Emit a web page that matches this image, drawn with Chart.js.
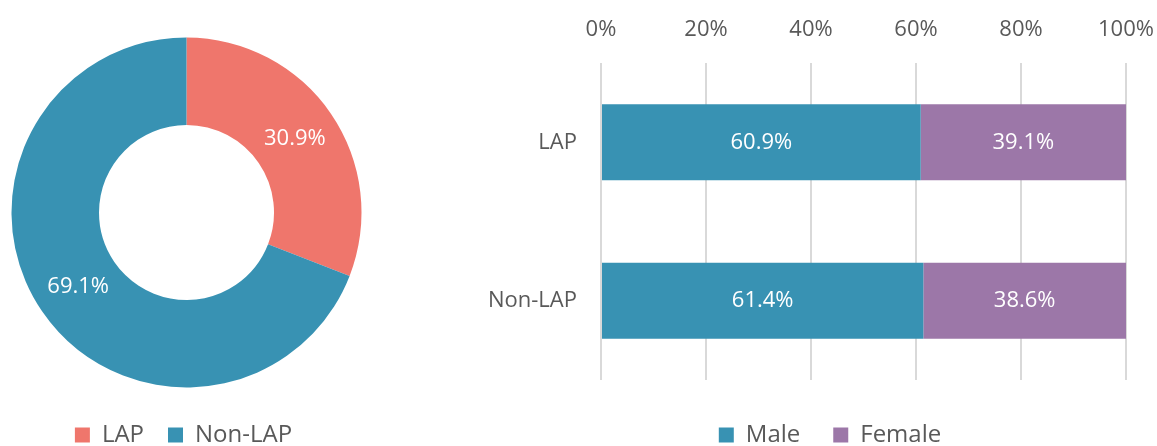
<!DOCTYPE html>
<html>
<head>
<meta charset="utf-8">
<script src="https://cdn.jsdelivr.net/npm/chart.js@4"></script>
<style>
  html, body { margin: 0; padding: 0; background: #ffffff; overflow: hidden; width: 1157px; height: 446px; position: relative; }
  #pie { position: absolute; left: 0; top: 0; }
  #bar { position: absolute; left: 440px; top: 0; }
</style>
</head>
<body>
<canvas id="pie" width="373" height="457"></canvas>
<canvas id="bar" width="780" height="457"></canvas>
<script>
// ---- data ----
const pieCategories = ['LAP', 'Non-LAP'];
const pieValues = [30.9, 69.1];
const barCategories = ['LAP', 'Non-LAP'];
const maleValues = [60.9, 61.4];
const femaleValues = [39.1, 38.6];
const seriesNames = ['Male', 'Female'];
const tickValues = [0, 20, 40, 60, 80, 100];

// ---- style ----
const FONT = '"Open Sans", "Liberation Sans", sans-serif';
const TEXT = '#595959';
const CORAL = '#EF766C';
const TEAL = '#3892B3';
const PURPLE = '#9C77A8';

const valueLabels = {
  id: 'valueLabels',
  afterDatasetsDraw(chart) {
    const ctx = chart.ctx;
    ctx.save();
    ctx.fillStyle = '#ffffff';
    ctx.font = '22px ' + FONT;
    ctx.textAlign = 'center';
    ctx.textBaseline = 'middle';
    chart.data.datasets.forEach((ds, di) => {
      const meta = chart.getDatasetMeta(di);
      meta.data.forEach((el, i) => {
        const p = chart.config.type === 'doughnut' ? el.tooltipPosition(true) : el.getCenterPoint(true);
        ctx.fillText(ds.data[i].toFixed(1) + '%', p.x, p.y);
      });
    });
    ctx.restore();
  }
};

// shifts the legend box sideways so it sits where the reference puts it
const legendShift = {
  id: 'legendShift',
  afterLayout(chart, args, opts) {
    const lg = chart.legend;
    if (lg && opts.dx) { lg.left += opts.dx; lg.right += opts.dx; }
  }
};

Chart.defaults.font.family = FONT;
Chart.defaults.color = TEXT;

new Chart(document.getElementById('pie'), {
  type: 'doughnut',
  data: {
    labels: pieCategories,
    datasets: [{
      data: pieValues,
      backgroundColor: [CORAL, TEAL],
      borderWidth: 0,
      radius: 175,
      cutout: '50%'
    }]
  },
  options: {
    responsive: false,
    animation: false,
    layout: { padding: { top: 26 } },
    plugins: {
      tooltip: { enabled: false },
      legend: {
        position: 'bottom',
        labels: { boxWidth: 15, boxHeight: 15, padding: 24, color: TEXT, font: { size: 24, family: FONT } }
      },
      legendShift: { dx: -3 }
    }
  },
  plugins: [valueLabels, legendShift]
});

new Chart(document.getElementById('bar'), {
  type: 'bar',
  data: {
    labels: barCategories,
    datasets: [
      { label: seriesNames[0], data: maleValues, backgroundColor: TEAL, borderWidth: 0, barPercentage: 0.48, categoryPercentage: 1 },
      { label: seriesNames[1], data: femaleValues, backgroundColor: PURPLE, borderWidth: 0, barPercentage: 0.48, categoryPercentage: 1 }
    ]
  },
  options: {
    indexAxis: 'y',
    responsive: false,
    animation: false,
    layout: { padding: { right: 94 } },
    scales: {
      x: {
        position: 'top',
        stacked: true,
        min: 0,
        max: 100,
        afterBuildTicks(s) { s.ticks = tickValues.map(v => ({ value: v })); },
        afterFit(s) { s.height = 63; s.paddingLeft = 0; s.paddingRight = 0; },
        ticks: { padding: 20, color: TEXT, font: { size: 22, family: FONT }, callback: v => v + '%' },
        grid: { color: '#d9d9d9', lineWidth: 2, drawTicks: false },
        border: { display: false }
      },
      y: {
        stacked: true,
        afterFit(s) { s.width = 161; },
        ticks: { padding: 24, color: TEXT, font: { size: 22, family: FONT } },
        grid: { display: false, drawTicks: false },
        border: { display: false }
      }
    },
    plugins: {
      tooltip: { enabled: false },
      legend: {
        position: 'bottom',
        title: { display: true, text: '', font: { size: 1 }, padding: { top: 8.8, bottom: 0 } },
        labels: { boxWidth: 15, boxHeight: 15, padding: 33, color: TEXT, font: { size: 24, family: FONT } }
      },
      legendShift: { dx: 47 }
    }
  },
  plugins: [valueLabels, legendShift]
});
</script>
</body>
</html>
